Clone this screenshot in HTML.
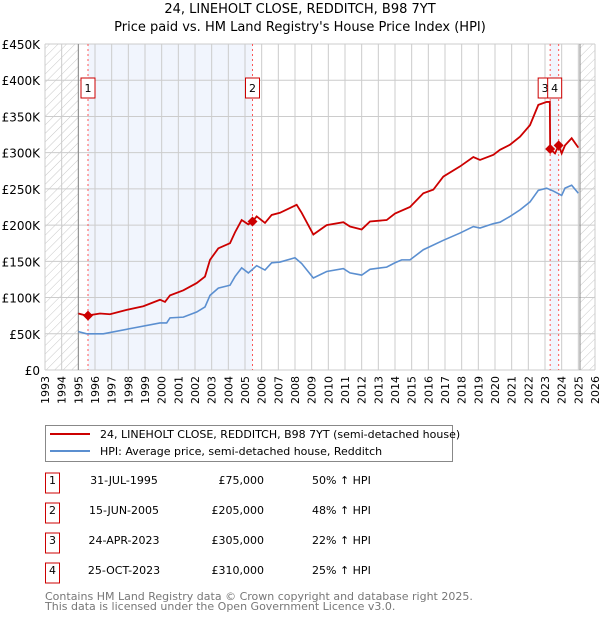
<!DOCTYPE html>
<html><head><meta charset="utf-8"><style>
body{margin:0;background:#fff;font-family:"DejaVu Sans","Liberation Sans",sans-serif;}
svg{display:block}
</style></head><body>
<svg id="c" width="600" height="620" xmlns="http://www.w3.org/2000/svg">
<defs><pattern id="hatch" width="6" height="6" patternUnits="userSpaceOnUse" patternTransform="rotate(45)"><line x1="0" y1="0" x2="0" y2="6" stroke="#c8c8c8" stroke-width="1"/></pattern></defs>
<text x="300" y="13" text-anchor="middle" font-size="13">24, LINEHOLT CLOSE, REDDITCH, B98 7YT</text>
<text x="300" y="31" text-anchor="middle" font-size="13">Price paid vs. HM Land Registry's House Price Index (HPI)</text>
<g id="plot"></g>
<g>
<rect x="45.5" y="425.5" width="407" height="36" fill="#fff" stroke="#888"/>
<line x1="50" y1="434" x2="90" y2="434" stroke="#cc0000" stroke-width="2"/>
<text x="100" y="438" font-size="11">24, LINEHOLT CLOSE, REDDITCH, B98 7YT (semi-detached house)</text>
<line x1="50" y1="451" x2="90" y2="451" stroke="#5b8fd0" stroke-width="2"/>
<text x="100" y="455" font-size="11">HPI: Average price, semi-detached house, Redditch</text>
</g>
<g id="table" font-size="11"></g>
<text x="45" y="600" font-size="11" fill="#777">Contains HM Land Registry data © Crown copyright and database right 2025.</text>
<text x="45" y="610" font-size="11" fill="#777">This data is licensed under the Open Government Licence v3.0.</text>
</svg>
<script>
const hpiYears=[1995.0,1995.5,1996.5,1998.3,1999.9,2000.3,2000.5,2001.3,2002.1,2002.6,2002.9,2003.4,2004.1,2004.4,2004.8,2005.2,2005.7,2006.2,2006.6,2007.1,2008.0,2008.4,2009.1,2009.9,2010.9,2011.3,2012.0,2012.5,2013.5,2014.0,2014.4,2014.9,2015.7,2016.9,2017.9,2018.7,2019.1,2019.9,2020.3,2020.9,2021.5,2022.1,2022.6,2023.1,2023.5,2024.0,2024.2,2024.6,2025.0];
const hpiValues=[53,50,50,58,65,65,72,73,80,87,103,113,117,129,141,134,144,138,148,149,155,147,127,136,140,134,131,139,142,148,152,152,166,179,189,198,196,202,204,212,221,232,248,251,247,241,251,255,244];
const propYears=[1995.0,1995.5,1996.3,1996.9,1997.9,1998.9,1999.9,2000.2,2000.5,2001.3,2002.1,2002.6,2002.9,2003.4,2004.1,2004.4,2004.8,2005.2,2005.45,2005.7,2006.2,2006.6,2007.1,2008.1,2008.4,2009.1,2009.9,2010.9,2011.3,2012.0,2012.5,2013.5,2014.0,2014.9,2015.7,2016.3,2016.9,2017.9,2018.7,2019.1,2019.9,2020.3,2020.9,2021.5,2022.1,2022.6,2023.1,2023.29,2023.31,2023.6,2023.82,2024.0,2024.2,2024.6,2025.0];
const propValues=[78,75,78,77,83,88,97,94,103,110,120,129,152,168,175,190,207,201,205,212,203,214,217,228,217,187,200,204,198,194,205,207,216,225,244,249,267,281,294,290,297,304,311,322,338,366,370,370,305,299,310,299,310,320,307];
const saleIds=["1","2","3","4"];
const saleYears=[1995.58,2005.45,2023.31,2023.82];
const saleValues=[75,205,305,310];
const saleDates=["31-JUL-1995","15-JUN-2005","24-APR-2023","25-OCT-2023"];
const salePrices=["£75,000","£205,000","£305,000","£310,000"];
const saleHpi=["50% ↑ HPI","48% ↑ HPI","22% ↑ HPI","25% ↑ HPI"];
const yTicks=[0,50,100,150,200,250,300,350,400,450];
const yTickLabels=["£0","£50K","£100K","£150K","£200K","£250K","£300K","£350K","£400K","£450K"];
const xMin=1993,xMax=2026,dataStart=1995.0,dataEnd=2025.1;
const L=45,R=595,T=44,B=370;
const X=y=>L+(y-xMin)/(xMax-xMin)*(R-L);
const Y=v=>B-v/450*(B-T);
const NS="http://www.w3.org/2000/svg";
const g=document.getElementById('plot');
function mk(tag,attrs,parent){const e=document.createElementNS(NS,tag);for(const k in attrs)e.setAttribute(k,attrs[k]);(parent||g).appendChild(e);return e;}
let e=mk('rect',{x:L,y:T,width:X(dataStart)-L,height:B-T,fill:'url(#hatch)'});


e=mk('rect',{x:X(dataEnd),y:T,width:R-X(dataEnd),height:B-T,fill:'url(#hatch)'});


e=mk('rect',{x:X(saleYears[0]),y:T,width:X(saleYears[1])-X(saleYears[0]),height:B-T,fill:'#eef3fd',opacity:0.8});


e=mk('rect',{x:X(saleYears[2]),y:T,width:X(saleYears[3])-X(saleYears[2]),height:B-T,fill:'#eef3fd',opacity:0.8});


for(let yr=xMin;yr<=xMax;yr++){
 e=mk('line',{x1:X(yr),x2:X(yr),y1:T,y2:B,stroke:'#cccccc','stroke-width':1});
 
 
 e=mk('text',{x:0,y:0,'font-size':11,'text-anchor':'end',transform:`translate(${X(yr)+4},${B+6}) rotate(-90)`});
 e.textContent=yr;
 
 
}
yTicks.forEach((v,i)=>{
 e=mk('line',{x1:L,x2:R,y1:Y(v),y2:Y(v),stroke:'#cccccc','stroke-width':1});
 
 
 e=mk('text',{x:L-5,y:Y(v)+5,'font-size':12,'text-anchor':'end'});
 e.textContent=yTickLabels[i];
 
 
});
e=mk('line',{x1:X(dataStart),x2:X(dataStart),y1:T,y2:B,stroke:'#888','stroke-width':1});


e=mk('line',{x1:X(dataEnd),x2:X(dataEnd),y1:T,y2:B,stroke:'#888','stroke-width':1});


saleYears.forEach((s,i)=>{
 e=mk('line',{x1:X(s),x2:X(s),y1:T,y2:B,stroke:'#ff5555','stroke-width':1,'stroke-dasharray':'2,3'});
 
 
});
e=mk('polyline',{points:hpiYears.map((y,i)=>X(y)+','+Y(hpiValues[i])).join(' '),fill:'none',stroke:'#5b8fd0','stroke-width':1.6});


e=mk('polyline',{points:propYears.map((y,i)=>X(y)+','+Y(propValues[i])).join(' '),fill:'none',stroke:'#cc0000','stroke-width':1.8});


saleYears.forEach((s,i)=>{
 const cx=X(s),cy=Y(saleValues[i]);
 e=mk('polygon',{points:`${cx},${cy-5} ${cx+5},${cy} ${cx},${cy+5} ${cx-5},${cy}`,fill:'#cc0000'});
 
 
});
const labelShift=[-7,-7,-12,-11];
saleYears.forEach((s,i)=>{
 const lx=X(s)+labelShift[i];
 e=mk('rect',{x:lx,y:T+34,width:14,height:20,fill:'#fff',stroke:'#cc0000','stroke-width':1});
 
 
 e=mk('text',{x:lx+7,y:T+48,'font-size':11,'text-anchor':'middle'});
 e.textContent=saleIds[i];
 
 
});
const tb=document.getElementById('table');
saleIds.forEach((id,i)=>{
 const cy=483+i*30;
 let t=mk('rect',{x:45.5,y:cy-10,width:14,height:20,fill:'#fff',stroke:'#cc0000'},tb);
 
 
 t=mk('text',{x:52.5,y:cy+1,'text-anchor':'middle'},tb);t.textContent=id;
 
 
 t=mk('text',{x:124,y:cy+1,'text-anchor':'middle'},tb);t.textContent=saleDates[i];
 
 
 t=mk('text',{x:264,y:cy+1,'text-anchor':'end'},tb);t.textContent=salePrices[i];
 
 
 t=mk('text',{x:312,y:cy+1},tb);t.textContent=saleHpi[i];
 
 
});
</script>
</body></html>
